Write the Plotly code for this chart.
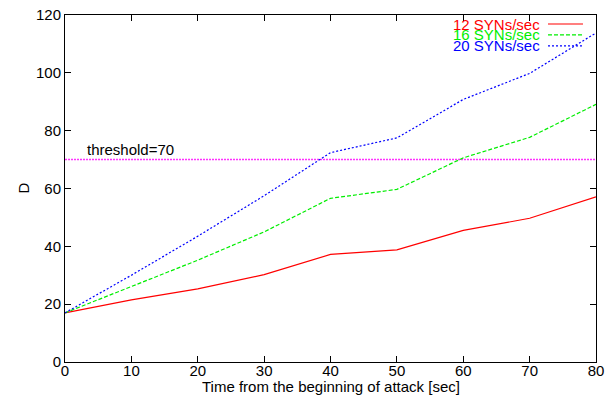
import plotly.graph_objects as go

time_sec = [0, 10, 20, 30, 40, 50, 60, 70, 80]
d_12 = [17, 21.5, 25.3, 30.2, 37.2, 38.8, 45.5, 49.7, 57.1]
d_16 = [17, 26, 35.2, 45, 56.6, 59.7, 70.6, 77.7, 89.1]
d_20 = [17, 30, 43.5, 57.5, 72.4, 77.5, 90.8, 99.8, 113.8]
series_names = ["12 SYNs/sec", "16 SYNs/sec", "20 SYNs/sec"]
threshold = 70
threshold_label = "threshold=70"
x_ticks = [0, 10, 20, 30, 40, 50, 60, 70, 80]
y_ticks = [0, 20, 40, 60, 80, 100, 120]

colors = ["#ff0000", "#00ee00", "#0000ff"]
dashes = ["solid", "4px,2px", "2px,2px"]
FONT = "Liberation Sans, Arial, Helvetica, sans-serif"
FS = 15

fig = go.Figure()

fig.add_trace(go.Scatter(x=[time_sec[0], time_sec[-1]], y=[threshold, threshold],
                         mode="lines", line=dict(color="rgb(255,0,255)", width=1.5, dash="2px,1px"),
                         opacity=0.8, showlegend=False, hoverinfo="skip"))

for ys, c, d, n in zip([d_12, d_16, d_20], colors, dashes, series_names):
    fig.add_trace(go.Scatter(x=time_sec, y=ys, mode="lines", name=n,
                             line=dict(color=c, width=1.2, dash=d), showlegend=False))

# gnuplot-style legend: text right-aligned, sample to the right
leg_y = [0.974, 0.943, 0.911]
for n, c, d, yy in zip(series_names, colors, dashes, leg_y):
    fig.add_annotation(x=0.8977, y=yy, xref="paper", yref="paper", text=n,
                       showarrow=False, xanchor="right", yanchor="middle",
                       font=dict(family=FONT, size=FS, color=c))
    fig.add_shape(type="line", xref="paper", yref="paper", x0=0.9096, x1=0.9755,
                  y0=yy, y1=yy, line=dict(color=c, width=1.2, dash=d))

fig.add_annotation(x=3, y=threshold, text=threshold_label, showarrow=False,
                   xanchor="left", yanchor="bottom",
                   font=dict(family=FONT, size=FS, color="black"))

# axis titles
fig.add_annotation(x=0.5, y=-0.072, xref="paper", yref="paper",
                   text="Time from the beginning of attack [sec]", showarrow=False,
                   xanchor="center", yanchor="middle",
                   font=dict(family=FONT, size=FS, color="black"))
fig.add_annotation(x=-0.079, y=0.5, xref="paper", yref="paper", text="D",
                   showarrow=False, textangle=-90, xanchor="center", yanchor="middle",
                   font=dict(family=FONT, size=FS, color="black"))

axis_common = dict(showgrid=False, zeroline=False, showline=True, linecolor="black",
                   linewidth=1, mirror="ticks", ticks="inside", ticklen=6,
                   tickcolor="black", automargin=False,
                   tickfont=dict(family=FONT, size=FS, color="black"))

fig.update_xaxes(range=[0, 80], tickvals=x_ticks, ticklabelstandoff=-5, **axis_common)
fig.update_yaxes(range=[0, 120], tickvals=y_ticks, **axis_common)

fig.update_layout(width=613, height=399, plot_bgcolor="white", paper_bgcolor="white",
                  margin=dict(l=65, r=17, t=15, b=37), font=dict(family=FONT))

fig.write_html("out.html", config={"displayModeBar": False},
               post_script="document.body.style.margin='0';")
